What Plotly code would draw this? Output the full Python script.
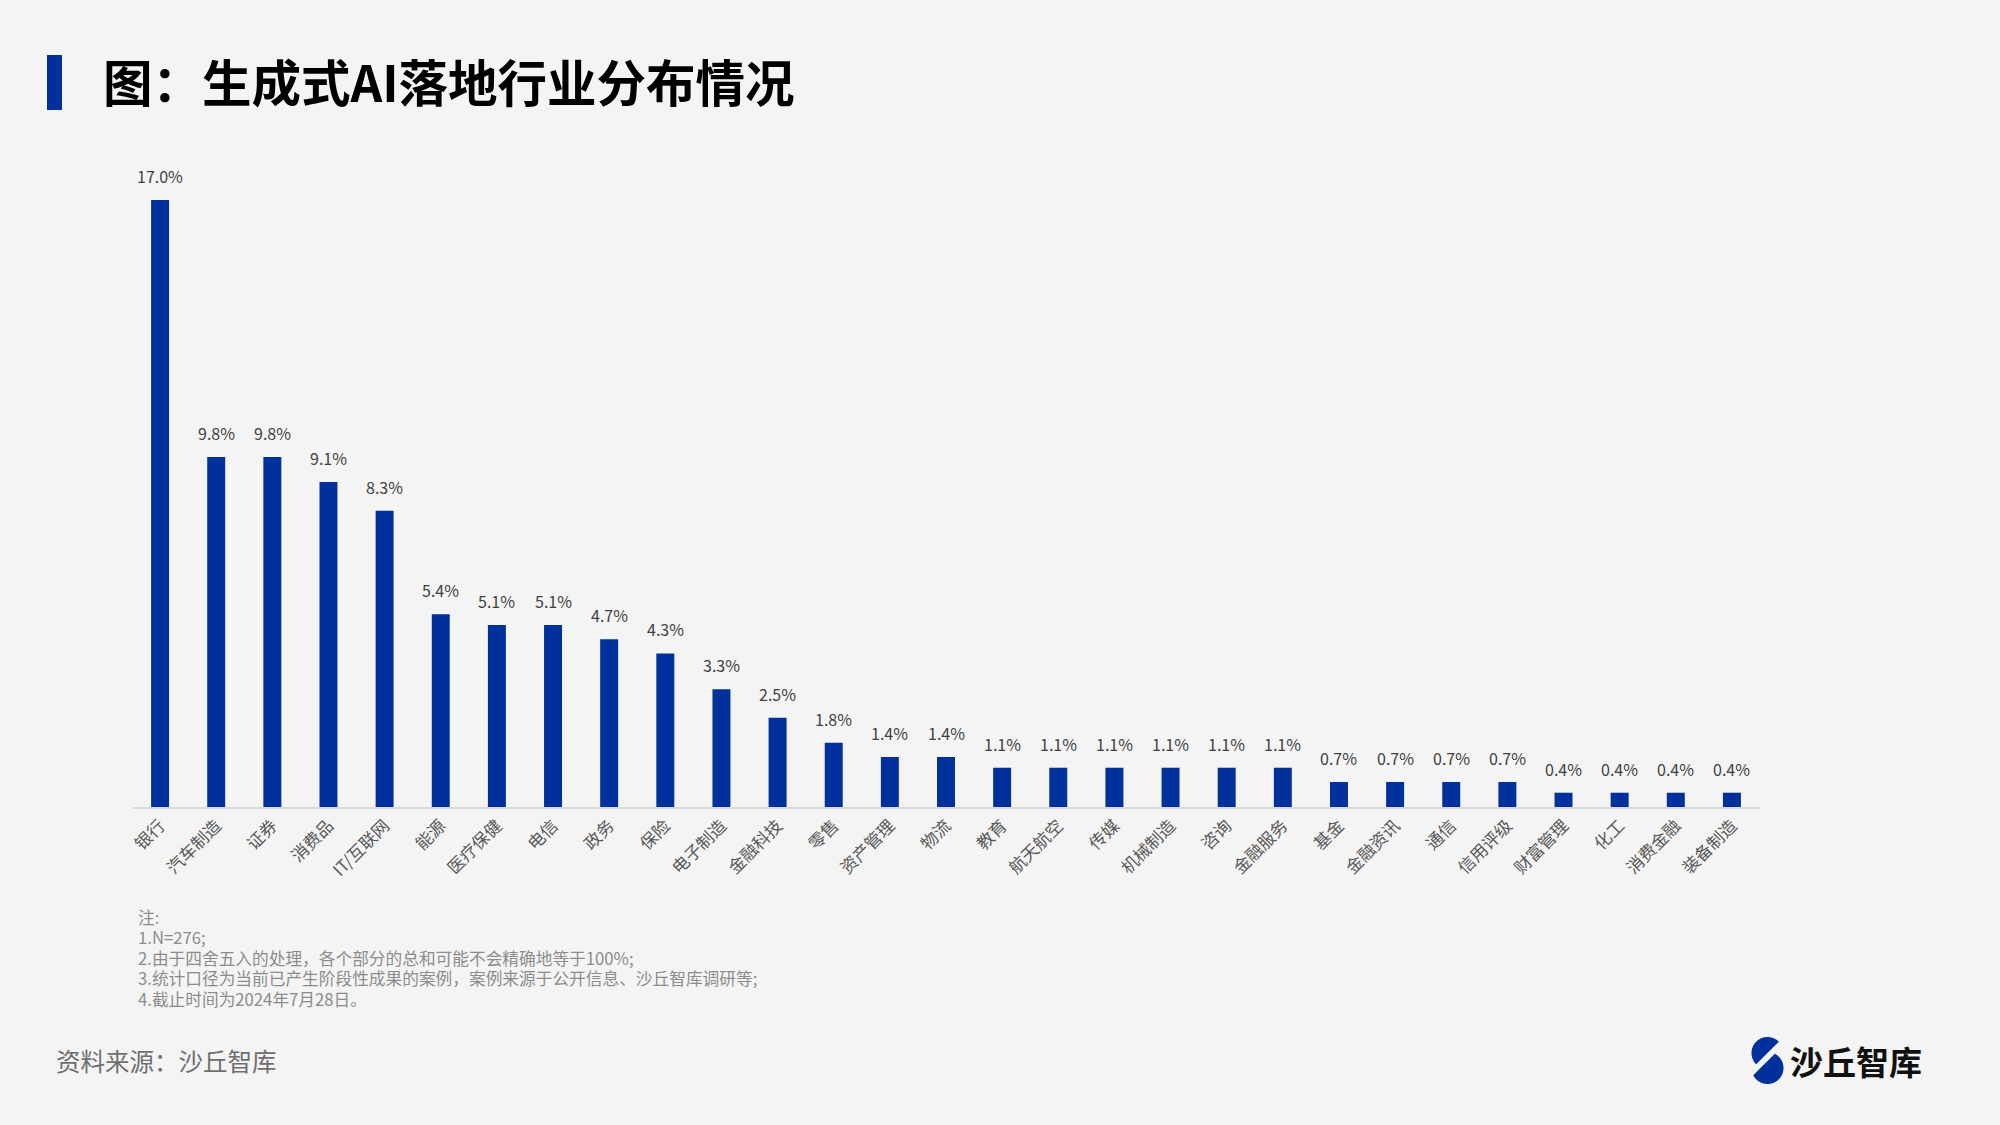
import math
import plotly.graph_objects as go

categories = ["银行", "汽车制造", "证券", "消费品", "IT/互联网", "能源", "医疗保健", "电信", "政务", "保险",
              "电子制造", "金融科技", "零售", "资产管理", "物流", "教育", "航天航空", "传媒", "机械制造", "咨询",
              "金融服务", "基金", "金融资讯", "通信", "信用评级", "财富管理", "化工", "消费金融", "装备制造"]
values = [17.0, 9.8, 9.8, 9.1, 8.3, 5.4, 5.1, 5.1, 4.7, 4.3,
          3.3, 2.5, 1.8, 1.4, 1.4, 1.1, 1.1, 1.1, 1.1, 1.1,
          1.1, 0.7, 0.7, 0.7, 0.7, 0.4, 0.4, 0.4, 0.4]
value_labels = [f"{v:.1f}%" for v in values]

title_text = "图：生成式AI落地行业分布情况"
notes = ["注:", "1.N=276;", "2.由于四舍五入的处理，各个部分的总和可能不会精确地等于100%;",
         "3.统计口径为当前已产生阶段性成果的案例，案例来源于公开信息、沙丘智库调研等;",
         "4.截止时间为2024年7月28日。"]
source_text = "资料来源：沙丘智库"
logo_text = "沙丘智库"

FONT = "Noto Sans CJK SC"
BLUE = "#00309C"
BG = "#F4F4F4"
W, H = 2000, 1125
L, R, T, B = 132, 240, 200, 318
pw = W - L - R
ph = H - T - B


def paper_x(x):
    return (x - L) / pw


def paper_y(y):
    return (H - B - y) / ph


fig = go.Figure()
fig.add_trace(go.Bar(x=categories, y=values, marker=dict(color=BLUE, line=dict(width=0)),
                     hoverinfo="skip", cliponaxis=False))

annotations = []
for c, v, t in zip(categories, values, value_labels):
    annotations.append(dict(x=c, y=v, xref="x", yref="y", text=t, showarrow=False,
                            yanchor="bottom", yshift=10,
                            font=dict(family=FONT, size=16, color="#404040")))


def page_text(x, y, text, size, color, anchor="left"):
    return dict(x=paper_x(x), y=paper_y(y), xref="paper", yref="paper", xanchor=anchor, yanchor="middle",
                text=text, showarrow=False, font=dict(family=FONT, size=size, color=color))


annotations.append(page_text(101, 80, f"<b>{title_text}</b>", 49.5, "#000000"))
for i, n in enumerate(notes):
    annotations.append(page_text(136, 917 + 20.4 * i, n, 16.7, "#8C8C8C"))
annotations.append(page_text(54, 1060, source_text, 24.5, "#6E6E6E"))
annotations.append(page_text(1788, 1061, f"<b>{logo_text}</b>", 33, "#111111"))


# logo pieces (circle segments), decoration only
def segment_path(cx, cy, r, side):
    mx, my, g = 1768.5, 1056.0, 2.6
    nx, ny = -1 / math.sqrt(2), -1 / math.sqrt(2)
    n = 240
    pts = []
    flags = []
    for k in range(n):
        a = 2 * math.pi * k / n
        px_, py_ = cx + r * math.cos(a), cy + r * math.sin(a)
        d = nx * (px_ - mx) + ny * (py_ - my)
        ok = d > g if side > 0 else d < -g
        pts.append((px_, py_))
        flags.append(ok)
    start = 0
    for k in range(n):
        if flags[k] and not flags[k - 1]:
            start = k
            break
    seq = [pts[(start + k) % n] for k in range(n) if flags[(start + k) % n]]
    path = "M " + " L ".join(f"{paper_x(x):.5f},{paper_y(y):.5f}" for x, y in seq) + " Z"
    return path


shapes = [
    dict(type="rect", xref="paper", yref="paper", x0=paper_x(47), x1=paper_x(62), y0=paper_y(110), y1=paper_y(55),
         fillcolor=BLUE, line=dict(width=0), layer="above"),
    dict(type="path", xref="paper", yref="paper", path=segment_path(1767.5, 1053.0, 16.0, 1),
         fillcolor=BLUE, line=dict(width=0), layer="above"),
    dict(type="path", xref="paper", yref="paper", path=segment_path(1767.5, 1068.0, 16.0, -1),
         fillcolor=BLUE, line=dict(width=0), layer="above"),
]

fig.update_layout(
    width=W, height=H,
    margin=dict(l=L, r=R, t=T, b=B, autoexpand=False),
    paper_bgcolor=BG, plot_bgcolor=BG,
    bargap=0.68,
    showlegend=False,
    annotations=annotations,
    shapes=shapes,
    xaxis=dict(showline=True, linecolor="#D9D9D9", linewidth=2, ticks="", tickangle=-45,
               tickfont=dict(family=FONT, size=17, color="#595959"), showgrid=False, fixedrange=True),
    yaxis=dict(range=[0, 17.0], visible=False, showgrid=False, zeroline=False, fixedrange=True),
)

fig.write_html("out.html")
